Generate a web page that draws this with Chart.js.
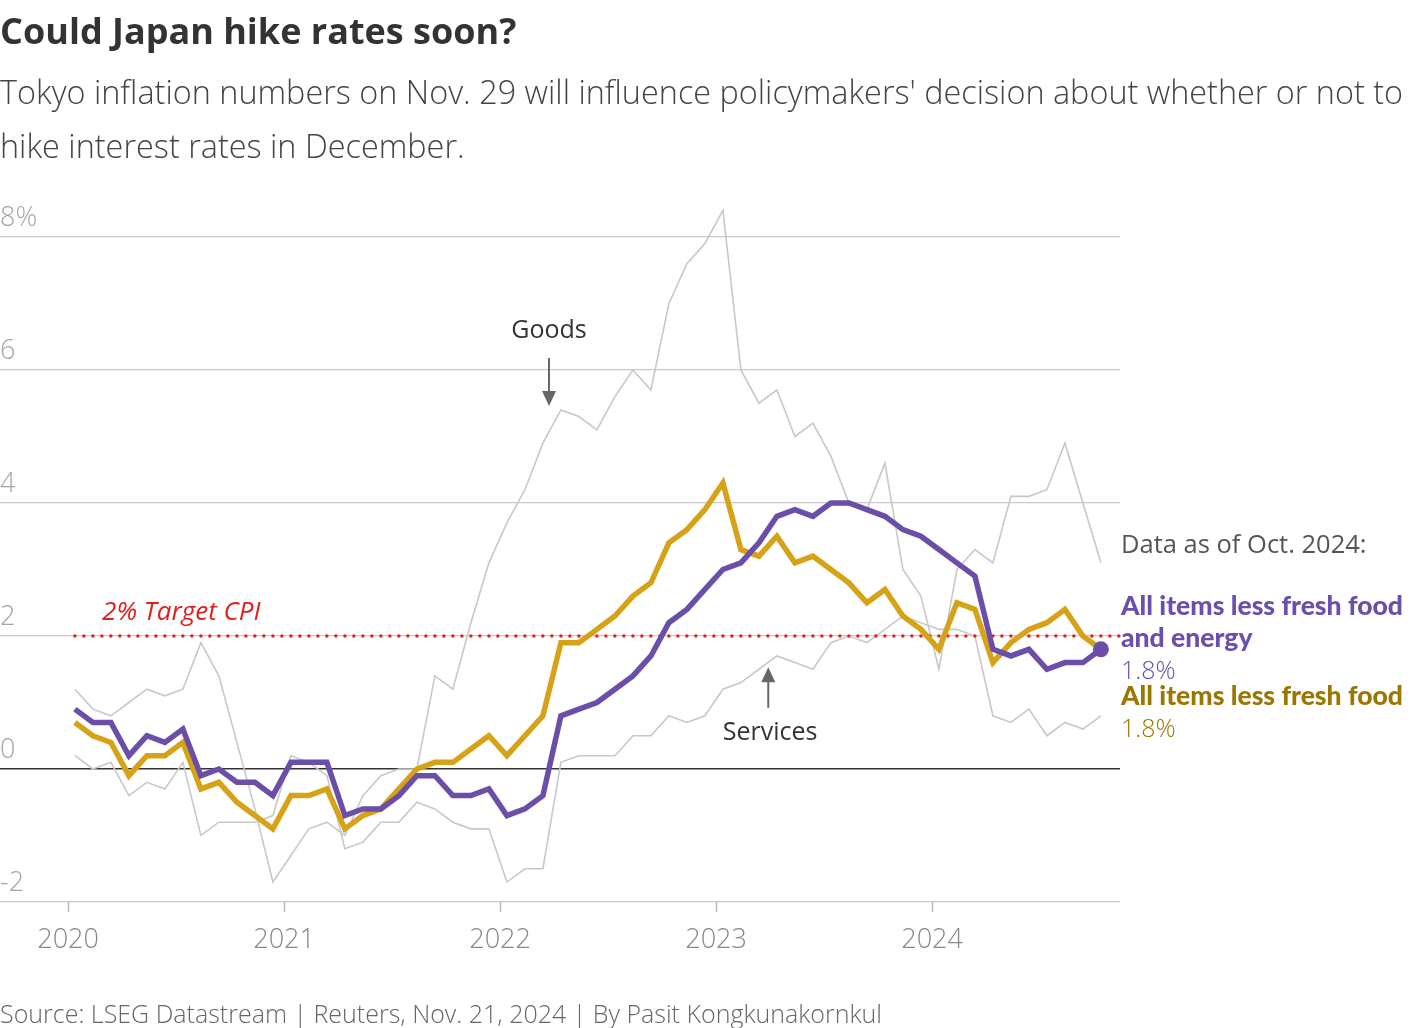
<!DOCTYPE html>
<html>
<head>
<meta charset="utf-8">
<script src="https://cdn.jsdelivr.net/npm/chart.js@4.4.1/dist/chart.umd.min.js"></script>
<style>
  body { margin: 0; background: #fff; font-family: 'Open Sans', Lato, sans-serif; }
  #wrap { position: relative; width: 1420px; height: 1028px; overflow: hidden; }
  #chart { position: absolute; left: 0; top: 0; }
  .t { position: absolute; white-space: nowrap; }
  #title { left: 0; top: 10px; font-size: 36px; font-weight: 700; color: #333; line-height: 42px; }
  .sub { left: 0; font-size: 32.4px; font-weight: 300; color: #444; line-height: 40px; }
  #source { left: 0; top: 998px; font-size: 25px; font-weight: 300; color: #666; line-height: 30px; }
  .side { left: 1121px; line-height: 32px; }
  .asof { font-size: 25.5px; color: #555; font-weight: 400; }
  .lab { font-family: Lato, sans-serif; font-size: 26.5px; font-weight: 900; }
  .val { font-size: 25px; font-weight: 300; }
</style>
</head>
<body>
<div id="wrap">
  <canvas id="chart" width="1420" height="1028"></canvas>
  <div class="t" id="title">Could Japan hike rates soon?</div>
  <div class="t sub" style="top:71px">Tokyo inflation numbers on Nov. 29 will influence policymakers' decision about whether or not to</div>
  <div class="t sub" style="top:125px">hike interest rates in December.</div>
  <div class="t side asof" style="top:527px">Data as of Oct. 2024:</div>
  <div class="t side lab" style="top:589px;color:#6a4fad">All items less fresh food</div>
  <div class="t side lab" style="top:621px;color:#6a4fad">and energy</div>
  <div class="t side val" style="top:653px;color:#6a4fad">1.8%</div>
  <div class="t side lab" style="top:679px;color:#9b7700">All items less fresh food</div>
  <div class="t side val" style="top:711px;color:#9b7700">1.8%</div>
  <div class="t" id="source">Source: LSEG Datastream | Reuters, Nov. 21, 2024 | By Pasit Kongkunakornkul</div>
</div>
<script>
// monthly readings, Jan 2020 - Oct 2024 (y/y %, Tokyo CPI)
const months = [
  '2020-01','2020-02','2020-03','2020-04','2020-05','2020-06','2020-07','2020-08','2020-09','2020-10','2020-11','2020-12',
  '2021-01','2021-02','2021-03','2021-04','2021-05','2021-06','2021-07','2021-08','2021-09','2021-10','2021-11','2021-12',
  '2022-01','2022-02','2022-03','2022-04','2022-05','2022-06','2022-07','2022-08','2022-09','2022-10','2022-11','2022-12',
  '2023-01','2023-02','2023-03','2023-04','2023-05','2023-06','2023-07','2023-08','2023-09','2023-10','2023-11','2023-12',
  '2024-01','2024-02','2024-03','2024-04','2024-05','2024-06','2024-07','2024-08','2024-09','2024-10'
];

const coreCore = [
  0.9, 0.7, 0.7, 0.2, 0.5, 0.4, 0.6, -0.1, 0.0, -0.2, -0.2, -0.4,
  0.1, 0.1, 0.1, -0.7, -0.6, -0.6, -0.4, -0.1, -0.1, -0.4, -0.4, -0.3,
  -0.7, -0.6, -0.4, 0.8, 0.9, 1.0, 1.2, 1.4, 1.7, 2.2, 2.4, 2.7,
  3.0, 3.1, 3.4, 3.8, 3.9, 3.8, 4.0, 4.0, 3.9, 3.8, 3.6, 3.5,
  3.3, 3.1, 2.9, 1.8, 1.7, 1.8, 1.5, 1.6, 1.6, 1.8
];

const core = [
  0.7, 0.5, 0.4, -0.1, 0.2, 0.2, 0.4, -0.3, -0.2, -0.5, -0.7, -0.9,
  -0.4, -0.4, -0.3, -0.9, -0.7, -0.6, -0.3, 0.0, 0.1, 0.1, 0.3, 0.5,
  0.2, 0.5, 0.8, 1.9, 1.9, 2.1, 2.3, 2.6, 2.8, 3.4, 3.6, 3.9,
  4.3, 3.3, 3.2, 3.5, 3.1, 3.2, 3.0, 2.8, 2.5, 2.7, 2.3, 2.1,
  1.8, 2.5, 2.4, 1.6, 1.9, 2.1, 2.2, 2.4, 2.0, 1.8
];

const goods = [
  1.2, 0.9, 0.8, 1.0, 1.2, 1.1, 1.2, 1.9, 1.4, 0.4, -0.6, -1.7,
  -1.3, -0.9, -0.8, -1.0, -0.4, -0.1, 0.0, 0.0, 1.4, 1.2, 2.2, 3.1,
  3.7, 4.2, 4.9, 5.4, 5.3, 5.1, 5.6, 6.0, 5.7, 7.0, 7.6, 7.9,
  8.4, 6.0, 5.5, 5.7, 5.0, 5.2, 4.7, 4.0, 3.9, 4.6, 3.0, 2.6,
  1.5, 3.0, 3.3, 3.1, 4.1, 4.1, 4.2, 4.9, 4.0, 3.1
];

const services = [
  0.2, 0.0, 0.1, -0.4, -0.2, -0.3, 0.1, -1.0, -0.8, -0.8, -0.8, -0.7,
  0.2, 0.1, -0.1, -1.2, -1.1, -0.8, -0.8, -0.5, -0.6, -0.8, -0.9, -0.9,
  -1.7, -1.5, -1.5, 0.1, 0.2, 0.2, 0.2, 0.5, 0.5, 0.8, 0.7, 0.8,
  1.2, 1.3, 1.5, 1.7, 1.6, 1.5, 1.9, 2.0, 1.9, 2.1, 2.3, 2.2,
  2.1, 2.1, 2.0, 0.8, 0.7, 0.9, 0.5, 0.7, 0.6, 0.8
];

const years = [2020, 2021, 2022, 2023, 2024];
const yTicks = [-2, 0, 2, 4, 6, 8];
const target = 2;

// x axis counts months from Jan 2020; readings sit a bit after the year tick
const pointShift = 0.38;
const xMin = -3.78;
const xMax = 58.44;

const toPoints = vals => vals.map((v, i) => ({ x: i + pointShift, y: v }));

const notes = {
  id: 'notes',
  afterDatasetsDraw(chart) {
    const { ctx, scales: { x, y } } = chart;
    ctx.save();
    const arrow = (mx, fromV, toV) => {
      const px = x.getPixelForValue(mx);
      const y0 = y.getPixelForValue(fromV);
      const y1 = y.getPixelForValue(toV);
      const dir = y1 > y0 ? 1 : -1;
      ctx.strokeStyle = '#666';
      ctx.fillStyle = '#666';
      ctx.lineWidth = 2;
      ctx.beginPath();
      ctx.moveTo(px, y0);
      ctx.lineTo(px, y1 - dir * 12);
      ctx.stroke();
      ctx.beginPath();
      ctx.moveTo(px - 7, y1 - dir * 15);
      ctx.lineTo(px + 7, y1 - dir * 15);
      ctx.lineTo(px, y1);
      ctx.closePath();
      ctx.fill();
    };
    arrow(26.72, 6.18, 5.46);
    arrow(38.9, 0.92, 1.53);

    ctx.fillStyle = '#333';
    ctx.font = '400 25px "Open Sans"';
    ctx.textAlign = 'center';
    ctx.textBaseline = 'middle';
    ctx.fillText('Goods', x.getPixelForValue(26.72), y.getPixelForValue(6.59));
    ctx.fillText('Services', x.getPixelForValue(39.0), y.getPixelForValue(0.54));

    ctx.fillStyle = '#e0201b';
    ctx.font = 'italic 400 26px "Open Sans"';
    ctx.textAlign = 'left';
    ctx.fillText('2% Target CPI', x.getPixelForValue(1.89), y.getPixelForValue(2.35));
    ctx.restore();
  }
};

const thin = { borderColor: '#c8c8c8', borderWidth: 1.6, pointRadius: 0, tension: 0 };

new Chart(document.getElementById('chart'), {
  type: 'line',
  data: {
    datasets: [
      {
        label: 'All items less fresh food and energy',
        data: toPoints(coreCore),
        borderColor: '#6a4ea8',
        backgroundColor: '#6a4ea8',
        borderWidth: 5.5,
        pointRadius: coreCore.map((v, i) => (i === coreCore.length - 1 ? 8 : 0)),
        pointBorderWidth: 0,
        order: 1,
        clip: false
      },
      {
        label: 'All items less fresh food',
        data: toPoints(core),
        borderColor: '#d6a318',
        borderWidth: 5.5,
        pointRadius: 0,
        order: 2,
        clip: false
      },
      {
        label: '2% Target CPI',
        data: [{ x: pointShift, y: target }, { x: xMax, y: target }],
        borderColor: '#e2231a',
        borderWidth: 3.5,
        borderDash: [0, 9],
        borderCapStyle: 'round',
        pointRadius: 0,
        order: 3,
        clip: false
      },
      { label: 'Goods', data: toPoints(goods), ...thin, order: 4, clip: false },
      { label: 'Services', data: toPoints(services), ...thin, order: 5, clip: false }
    ]
  },
  options: {
    responsive: false,
    animation: false,
    devicePixelRatio: 1,
    layout: { autoPadding: false, padding: { top: 237, left: 0, right: 300, bottom: 66 } },
    plugins: { legend: { display: false }, tooltip: { enabled: false } },
    scales: {
      x: {
        type: 'linear',
        min: xMin,
        max: xMax,
        afterBuildTicks: axis => { axis.ticks = years.map(yr => ({ value: (yr - 2020) * 12 })); },
        afterFit: axis => { axis.height = 60; axis.paddingLeft = 0; axis.paddingRight = 0; },
        ticks: {
          callback: v => String(2020 + v / 12),
          font: { family: 'Open Sans', size: 27, weight: 300 },
          color: '#888',
          padding: 12,
          maxRotation: 0
        },
        grid: { drawOnChartArea: false, drawTicks: true, tickLength: 10, tickColor: '#bbb', tickWidth: 1.5 },
        border: { display: false }
      },
      y: {
        min: -2,
        max: 8,
        afterBuildTicks: axis => { axis.ticks = yTicks.map(v => ({ value: v })); },
        afterFit: axis => { axis.width = 0; },
        ticks: {
          mirror: true,
          padding: 0,
          labelOffset: -19,
          callback: v => (v === 8 ? '8%' : String(v)),
          font: { family: 'Open Sans', size: 27, weight: 300 },
          color: '#a8a2a8'
        },
        grid: {
          drawTicks: false,
          color: c => (c.tick && c.tick.value === 0 ? '#333' : '#cdc8cd'),
          lineWidth: c => (c.tick && c.tick.value === 0 ? 1.6 : 1.2)
        },
        border: { display: false }
      }
    }
  },
  plugins: [notes]
});
</script>
</body>
</html>
